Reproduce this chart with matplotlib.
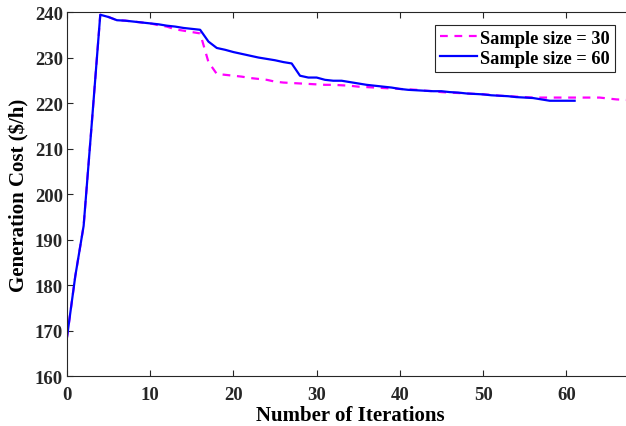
import matplotlib
matplotlib.use("Agg")
import matplotlib.pyplot as plt

plt.rcParams['font.family'] = ['Liberation Serif', 'DejaVu Serif']
plt.rcParams['font.weight'] = 'bold'

iters_60 = list(range(0, 62))
cost_60 = [168.5, 182.0, 193.0, 216.0, 239.4, 238.9, 238.2, 238.1, 237.9, 237.7,
           237.5, 237.3, 237.0, 236.8, 236.5, 236.3, 236.1, 233.5, 232.1, 231.7,
           231.2, 230.8, 230.4, 230.0, 229.7, 229.4, 229.0, 228.7, 226.0, 225.6,
           225.6, 225.1, 224.9, 224.9, 224.6, 224.3, 224.0, 223.8, 223.6, 223.4,
           223.1, 222.9, 222.8, 222.7, 222.6, 222.6, 222.4, 222.3, 222.1, 222.0,
           221.9, 221.7, 221.6, 221.5, 221.3, 221.2, 221.1, 220.8, 220.5, 220.5,
           220.5, 220.5]

iters_30 = list(range(0, 71))
cost_30 = [168.5, 182.0, 193.0, 216.0, 239.4, 238.9, 238.2, 238.1, 237.9, 237.7,
           237.5, 237.1, 236.8, 236.2, 235.9, 235.6, 235.3, 229.0, 226.4, 226.2,
           226.0, 225.8, 225.5, 225.3, 225.1, 224.7, 224.5, 224.4, 224.3, 224.2,
           224.1, 224.0, 224.0, 223.9, 223.8, 223.6, 223.5, 223.4, 223.3, 223.2,
           223.1, 223.0, 222.9, 222.7, 222.6, 222.4, 222.3, 222.2, 222.1, 222.0,
           221.9, 221.8, 221.6, 221.5, 221.4, 221.3, 221.2, 221.2, 221.2, 221.2,
           221.2, 221.2, 221.2, 221.2, 221.2, 221.0, 220.8, 220.7, 220.6, 220.5,
           220.4]

x_ticks = [0, 10, 20, 30, 40, 50, 60]
y_ticks = [160, 170, 180, 190, 200, 210, 220, 230, 240]

fig = plt.figure(figsize=(6.26, 4.27), dpi=100)
ax = fig.add_axes([0.107, 0.117, 0.904, 0.8525])

ax.plot(iters_30, cost_30, color='#ff00ff', linestyle=(0, (3.5, 3)), linewidth=1.6,
        label='Sample size = 30')
ax.plot(iters_60, cost_60, color='#0000ff', linestyle='-', linewidth=1.6,
        label='Sample size = 60')

ax.set_xlim(0, 68)
ax.set_ylim(160, 240)
ax.set_xticks(x_ticks)
ax.set_yticks(y_ticks)
ax.tick_params(direction='in', top=True, right=True, labelsize=13.5, length=4,
               width=0.8, colors='#262626')
ax.tick_params(axis='x', pad=7.5)
ax.tick_params(axis='y', pad=3)
for lab in ax.get_xticklabels() + ax.get_yticklabels():
    lab.set_fontweight('bold')
for sp in ax.spines.values():
    sp.set_color('#262626')
    sp.set_linewidth(0.8)

ax.set_xlabel('Number of Iterations', fontsize=15, fontweight='bold', labelpad=1)
ax.set_ylabel('Generation Cost ($/h)', fontsize=15, fontweight='bold', labelpad=4)

leg = ax.legend(loc='upper right', bbox_to_anchor=(0.968, 0.965), fancybox=False,
                framealpha=1, edgecolor='#262626', prop={'weight': 'bold', 'size': 13.2},
                handlelength=2.0, handletextpad=0.15, borderpad=0.28, labelspacing=0.15,
                borderaxespad=0)
leg.get_frame().set_linewidth(0.8)

fig.savefig('out.png', dpi=100)
